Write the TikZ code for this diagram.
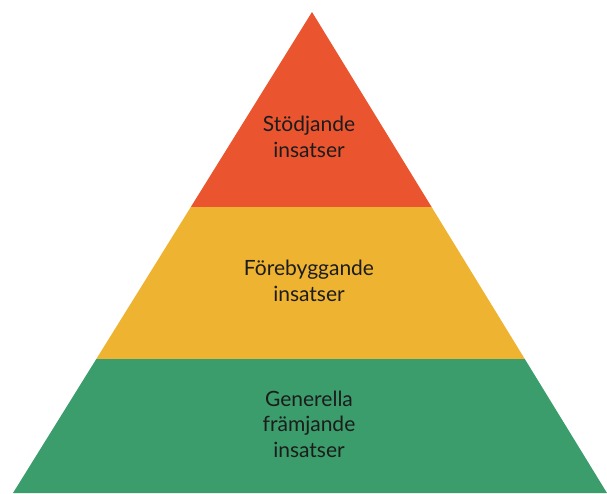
\documentclass[tikz,border=0pt]{standalone}
\usepackage{fontspec}
\setmainfont{Lato}
\definecolor{topc}{HTML}{EA5530}
\definecolor{midc}{HTML}{EEB331}
\definecolor{botc}{HTML}{3A9D6B}
\definecolor{txt}{HTML}{1C1C1C}
\begin{document}
\begin{tikzpicture}[x=1pt,y=-1pt,
  lbl/.style={text=txt,align=center,font=\fontsize{21}{25.5}\selectfont,inner sep=0pt}]
\useasboundingbox (0,0) rectangle (607,493);
\coordinate (apex) at (312,12);
\coordinate (ol) at (190.8,207);
\coordinate (or) at (431.6,207);
\coordinate (yl) at (96.3,359);
\coordinate (yr) at (524.8,359);
\coordinate (bl) at (13,493);
\coordinate (br) at (607,493);
\fill[topc] (apex) -- (or) -- (ol) -- cycle;
\fill[midc] (ol) -- (or) -- (yr) -- (yl) -- cycle;
\fill[botc] (yl) -- (yr) -- (br) -- (bl) -- cycle;
\node[lbl] (t1) at (309,137) {Stödjande\\insatser};
\node[lbl] (t2) at (309,281) {Förebyggande\\insatser};
\node[lbl] (t3) at (309,424) {Generella\\främjande\\insatser};
\end{tikzpicture}
\end{document}
